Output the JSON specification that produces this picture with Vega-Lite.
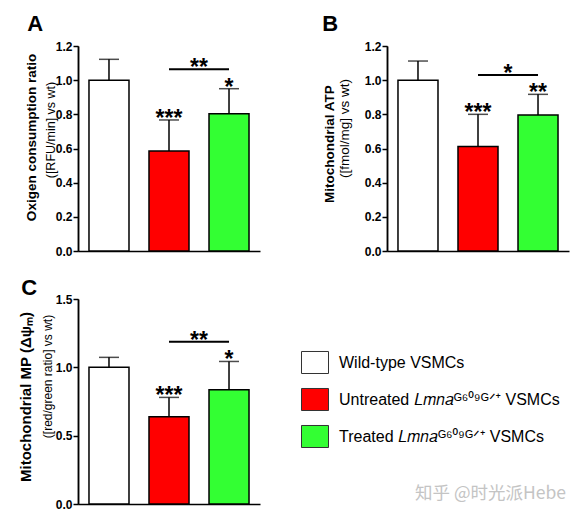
{
  "$schema": "https://vega.github.io/schema/vega-lite/v6.json",
  "padding": {"left": 18, "top": 13, "right": 5, "bottom": 5},
  "background": "white",
  "title": {"text": "知乎 @时光派Hebe", "orient": "bottom", "anchor": "end", "fontSize": 17.5, "font": "Noto Sans CJK SC", "fontWeight": "normal", "color": "#c4c4c4", "offset": -25, "dx": -3},
  "resolve": {"legend": {"color": "independent"}},
  "datasets": {
    "bars": [
      {"panel": "A", "group": "wt", "value": 1.0, "upper": 1.122, "star": ""},
      {"panel": "A", "group": "un", "value": 0.585, "upper": 0.767, "star": "***"},
      {"panel": "A", "group": "tr", "value": 0.804, "upper": 0.95, "star": "*"},
      {"panel": "B", "group": "wt", "value": 1.0, "upper": 1.112, "star": ""},
      {"panel": "B", "group": "un", "value": 0.611, "upper": 0.8, "star": "***"},
      {"panel": "B", "group": "tr", "value": 0.796, "upper": 0.917, "star": "**"},
      {"panel": "C", "group": "wt", "value": 1.0, "upper": 1.073, "star": ""},
      {"panel": "C", "group": "un", "value": 0.639, "upper": 0.78, "star": "***"},
      {"panel": "C", "group": "tr", "value": 0.836, "upper": 1.043, "star": "*"}
    ],
    "sig": [
      {"panel": "A", "from": "un", "to": "tr", "level": 1.064, "star": "**"},
      {"panel": "B", "from": "un", "to": "tr", "level": 1.03, "star": "*"},
      {"panel": "C", "from": "un", "to": "tr", "level": 1.187, "star": "**"}
    ]
  },
  "vconcat": [
    {
      "hconcat": [
        {
          "width": 182, "height": 205,
          "title": {"text": "A", "anchor": "start", "frame": "bounds", "fontSize": 22, "fontWeight": "bold", "offset": 4, "color": "black", "dx": 3},
          "resolve": {"axis": {"x": "independent", "y": "independent"}},
          "layer": [
            {
              "data": {"name": "bars"}, "transform": [{"filter": "datum.panel === 'A'"}],
              "mark": {"type": "bar", "stroke": "black", "strokeWidth": 1.5},
              "encoding": {
                "x": {"field": "group", "type": "nominal", "scale": {"domain": ["wt", "un", "tr"], "paddingInner": 0.3333, "paddingOuter": 0.183}, "axis": {"orient": "bottom", "labels": false, "ticks": false, "title": null}},
                "y": {"field": "value", "type": "quantitative", "scale": {"domain": [0, 1.2], "nice": false}, "axis": {"orient": "left", "values": [0, 0.2, 0.4, 0.6, 0.8, 1.0, 1.2], "format": ".1f", "title": "Oxigen consumption ratio", "titleFontSize": 13.5, "titleFontWeight": "bold", "titlePadding": 17, "titleY": 91}},
                "color": {"field": "group", "type": "nominal", "scale": {"domain": ["wt", "un", "tr"], "range": ["#ffffff", "#ff0000", "#33ff33"]}, "legend": null}
              }
            },
            {
              "data": {"name": "bars"}, "transform": [{"filter": "datum.panel === 'A'"}],
              "mark": {"type": "rule", "color": "black", "strokeWidth": 1.5},
              "encoding": {
                "x": {"field": "group", "type": "nominal", "scale": {"domain": ["wt", "un", "tr"]}, "axis": null},
                "y": {"field": "value", "type": "quantitative", "scale": {"domain": [0, 1.2], "nice": false}, "axis": {"orient": "left", "labels": false, "ticks": false, "title": "([RFU/min] vs wt)", "titleFontSize": 12.5, "titleFontWeight": "normal", "titlePadding": 21, "titleY": 83.5}},
                "y2": {"field": "upper"}
              }
            },
            {
              "data": {"name": "bars"}, "transform": [{"filter": "datum.panel === 'A'"}],
              "mark": {"type": "tick", "color": "black", "size": 20, "thickness": 1.5},
              "encoding": {
                "x": {"field": "group", "type": "nominal", "scale": {"domain": ["wt", "un", "tr"]}, "axis": null},
                "y": {"field": "upper", "type": "quantitative", "scale": {"domain": [0, 1.2], "nice": false}, "axis": null}
              }
            },
            {
              "data": {"name": "bars"}, "transform": [{"filter": "datum.panel === 'A'"}],
              "mark": {"type": "text", "color": "black", "fontSize": 23, "fontWeight": "bold", "baseline": "alphabetic", "dy": 6},
              "encoding": {
                "x": {"field": "group", "type": "nominal", "scale": {"domain": ["wt", "un", "tr"]}, "axis": null},
                "y": {"field": "upper", "type": "quantitative", "scale": {"domain": [0, 1.2], "nice": false}, "axis": null},
                "text": {"field": "star"}
              }
            },
            {
              "data": {"name": "sig"}, "transform": [{"filter": "datum.panel === 'A'"}],
              "mark": {"type": "rule", "color": "black", "strokeWidth": 2},
              "encoding": {
                "x": {"field": "from", "type": "nominal", "scale": {"domain": ["wt", "un", "tr"]}, "axis": null},
                "x2": {"field": "to"},
                "y": {"field": "level", "type": "quantitative", "scale": {"domain": [0, 1.2], "nice": false}, "axis": null}
              }
            },
            {
              "data": {"name": "sig"}, "transform": [{"filter": "datum.panel === 'A'"}],
              "mark": {"type": "text", "color": "black", "fontSize": 23, "fontWeight": "bold", "baseline": "alphabetic", "dy": 6, "dx": 30},
              "encoding": {
                "x": {"field": "from", "type": "nominal", "scale": {"domain": ["wt", "un", "tr"]}, "axis": null},
                "y": {"field": "level", "type": "quantitative", "scale": {"domain": [0, 1.2], "nice": false}, "axis": null},
                "text": {"field": "star"}
              }
            }
          ]
        },
        {
          "width": 182, "height": 205,
          "title": {"text": "B", "anchor": "start", "frame": "bounds", "fontSize": 22, "fontWeight": "bold", "offset": 4, "color": "black"},
          "resolve": {"axis": {"x": "independent", "y": "independent"}},
          "layer": [
            {
              "data": {"name": "bars"}, "transform": [{"filter": "datum.panel === 'B'"}],
              "mark": {"type": "bar", "stroke": "black", "strokeWidth": 1.5},
              "encoding": {
                "x": {"field": "group", "type": "nominal", "scale": {"domain": ["wt", "un", "tr"], "paddingInner": 0.3333, "paddingOuter": 0.183}, "axis": {"orient": "bottom", "labels": false, "ticks": false, "title": null}},
                "y": {"field": "value", "type": "quantitative", "scale": {"domain": [0, 1.2], "nice": false}, "axis": {"orient": "left", "values": [0, 0.2, 0.4, 0.6, 0.8, 1.0, 1.2], "format": ".1f", "title": "Mitochondrial  ATP", "titleFontSize": 13.5, "titleFontWeight": "bold", "titlePadding": 28, "titleY": 97.5}},
                "color": {"field": "group", "type": "nominal", "scale": {"domain": ["wt", "un", "tr"], "range": ["#ffffff", "#ff0000", "#33ff33"]}, "legend": null}
              }
            },
            {
              "data": {"name": "bars"}, "transform": [{"filter": "datum.panel === 'B'"}],
              "mark": {"type": "rule", "color": "black", "strokeWidth": 1.5},
              "encoding": {
                "x": {"field": "group", "type": "nominal", "scale": {"domain": ["wt", "un", "tr"]}, "axis": null},
                "y": {"field": "value", "type": "quantitative", "scale": {"domain": [0, 1.2], "nice": false}, "axis": {"orient": "left", "labels": false, "ticks": false, "title": "([fmol/mg] vs wt)", "titleFontSize": 13.5, "titleFontWeight": "normal", "titlePadding": 36, "titleY": 82}},
                "y2": {"field": "upper"}
              }
            },
            {
              "data": {"name": "bars"}, "transform": [{"filter": "datum.panel === 'B'"}],
              "mark": {"type": "tick", "color": "black", "size": 20, "thickness": 1.5},
              "encoding": {
                "x": {"field": "group", "type": "nominal", "scale": {"domain": ["wt", "un", "tr"]}, "axis": null},
                "y": {"field": "upper", "type": "quantitative", "scale": {"domain": [0, 1.2], "nice": false}, "axis": null}
              }
            },
            {
              "data": {"name": "bars"}, "transform": [{"filter": "datum.panel === 'B'"}],
              "mark": {"type": "text", "color": "black", "fontSize": 23, "fontWeight": "bold", "baseline": "alphabetic", "dy": 6},
              "encoding": {
                "x": {"field": "group", "type": "nominal", "scale": {"domain": ["wt", "un", "tr"]}, "axis": null},
                "y": {"field": "upper", "type": "quantitative", "scale": {"domain": [0, 1.2], "nice": false}, "axis": null},
                "text": {"field": "star"}
              }
            },
            {
              "data": {"name": "sig"}, "transform": [{"filter": "datum.panel === 'B'"}],
              "mark": {"type": "rule", "color": "black", "strokeWidth": 2},
              "encoding": {
                "x": {"field": "from", "type": "nominal", "scale": {"domain": ["wt", "un", "tr"]}, "axis": null},
                "x2": {"field": "to"},
                "y": {"field": "level", "type": "quantitative", "scale": {"domain": [0, 1.2], "nice": false}, "axis": null}
              }
            },
            {
              "data": {"name": "sig"}, "transform": [{"filter": "datum.panel === 'B'"}],
              "mark": {"type": "text", "color": "black", "fontSize": 23, "fontWeight": "bold", "baseline": "alphabetic", "dy": 6, "dx": 30},
              "encoding": {
                "x": {"field": "from", "type": "nominal", "scale": {"domain": ["wt", "un", "tr"]}, "axis": null},
                "y": {"field": "level", "type": "quantitative", "scale": {"domain": [0, 1.2], "nice": false}, "axis": null},
                "text": {"field": "star"}
              }
            }
          ]
        }
      ]
    },
    {
      "width": 182, "height": 205,
      "title": {"text": "C", "anchor": "start", "frame": "bounds", "fontSize": 22, "fontWeight": "bold", "offset": -7, "color": "black", "dx": 3},
      "resolve": {"axis": {"x": "independent", "y": "independent"}},
      "layer": [
        {
          "data": {"name": "bars"}, "transform": [{"filter": "datum.panel === 'C'"}],
          "mark": {"type": "bar", "stroke": "black", "strokeWidth": 1.5},
          "encoding": {
            "x": {"field": "group", "type": "nominal", "scale": {"domain": ["wt", "un", "tr"], "paddingInner": 0.3333, "paddingOuter": 0.183}, "axis": {"orient": "bottom", "labels": false, "ticks": false, "title": null}},
            "y": {"field": "value", "type": "quantitative", "scale": {"domain": [0, 1.5], "nice": false}, "axis": {"orient": "left", "values": [0, 0.5, 1.0, 1.5], "format": ".1f", "title": "Mitochondrial MP (Δψₘ)", "titleFontSize": 15, "titleFontWeight": "bold", "titlePadding": 22, "titleY": 97.5}},
            "color": {"field": "group", "type": "nominal", "scale": {"domain": ["wt", "un", "tr"], "range": ["#ffffff", "#ff0000", "#33ff33"]},
              "legend": {"orient": "none", "legendX": 223, "legendY": 49.5, "title": null, "symbolType": "M-1,-0.815L1,-0.815L1,0.815L-1,0.815Z", "symbolSize": 729, "symbolStrokeColor": "#333333", "symbolStrokeWidth": 1, "symbolOpacity": 1, "labelFontSize": 16, "labelFont": "Liberation Sans, Noto Sans", "labelFontWeight": "normal", "labelColor": "black", "labelOffset": 10, "rowPadding": 9, "labelLimit": 400,
                "labelExpr": "datum.label === 'wt' ? 'Wild-type VSMCs' : datum.label === 'un' ? 'Untreated 𝐿𝑚𝑛𝑎ᴳ⁶⁰⁹ᴳᐟ⁺ VSMCs' : 'Treated 𝐿𝑚𝑛𝑎ᴳ⁶⁰⁹ᴳᐟ⁺ VSMCs'"}}
          }
        },
        {
          "data": {"name": "bars"}, "transform": [{"filter": "datum.panel === 'C'"}],
          "mark": {"type": "rule", "color": "black", "strokeWidth": 1.5},
          "encoding": {
            "x": {"field": "group", "type": "nominal", "scale": {"domain": ["wt", "un", "tr"]}, "axis": null},
            "y": {"field": "value", "type": "quantitative", "scale": {"domain": [0, 1.5], "nice": false}, "axis": {"orient": "left", "labels": false, "ticks": false, "title": "([red/green ratio] vs wt)", "titleFontSize": 12, "titleFontWeight": "normal", "titlePadding": 24, "titleY": 77}},
            "y2": {"field": "upper"}
          }
        },
        {
          "data": {"name": "bars"}, "transform": [{"filter": "datum.panel === 'C'"}],
          "mark": {"type": "tick", "color": "black", "size": 20, "thickness": 1.5},
          "encoding": {
            "x": {"field": "group", "type": "nominal", "scale": {"domain": ["wt", "un", "tr"]}, "axis": null},
            "y": {"field": "upper", "type": "quantitative", "scale": {"domain": [0, 1.5], "nice": false}, "axis": null}
          }
        },
        {
          "data": {"name": "bars"}, "transform": [{"filter": "datum.panel === 'C'"}],
          "mark": {"type": "text", "color": "black", "fontSize": 23, "fontWeight": "bold", "baseline": "alphabetic", "dy": 6},
          "encoding": {
            "x": {"field": "group", "type": "nominal", "scale": {"domain": ["wt", "un", "tr"]}, "axis": null},
            "y": {"field": "upper", "type": "quantitative", "scale": {"domain": [0, 1.5], "nice": false}, "axis": null},
            "text": {"field": "star"}
          }
        },
        {
          "data": {"name": "sig"}, "transform": [{"filter": "datum.panel === 'C'"}],
          "mark": {"type": "rule", "color": "black", "strokeWidth": 2},
          "encoding": {
            "x": {"field": "from", "type": "nominal", "scale": {"domain": ["wt", "un", "tr"]}, "axis": null},
            "x2": {"field": "to"},
            "y": {"field": "level", "type": "quantitative", "scale": {"domain": [0, 1.5], "nice": false}, "axis": null}
          }
        },
        {
          "data": {"name": "sig"}, "transform": [{"filter": "datum.panel === 'C'"}],
          "mark": {"type": "text", "color": "black", "fontSize": 23, "fontWeight": "bold", "baseline": "alphabetic", "dy": 6, "dx": 30},
          "encoding": {
            "x": {"field": "from", "type": "nominal", "scale": {"domain": ["wt", "un", "tr"]}, "axis": null},
            "y": {"field": "level", "type": "quantitative", "scale": {"domain": [0, 1.5], "nice": false}, "axis": null},
            "text": {"field": "star"}
          }
        }
      ]
    }
  ],
  "spacing": 20,
  "config": {
    "font": "Liberation Sans",
    "view": {"stroke": null},
    "concat": {"spacing": 62},
    "axis": {"domainColor": "black", "tickColor": "black", "labelColor": "black", "titleColor": "black", "domainWidth": 1.5, "tickWidth": 1.5, "tickSize": 5, "labelPadding": 1, "labelFont": "Liberation Sans", "labelFontWeight": "bold", "labelFontSize": 12, "titleFont": "Liberation Sans", "grid": false}
  }
}
